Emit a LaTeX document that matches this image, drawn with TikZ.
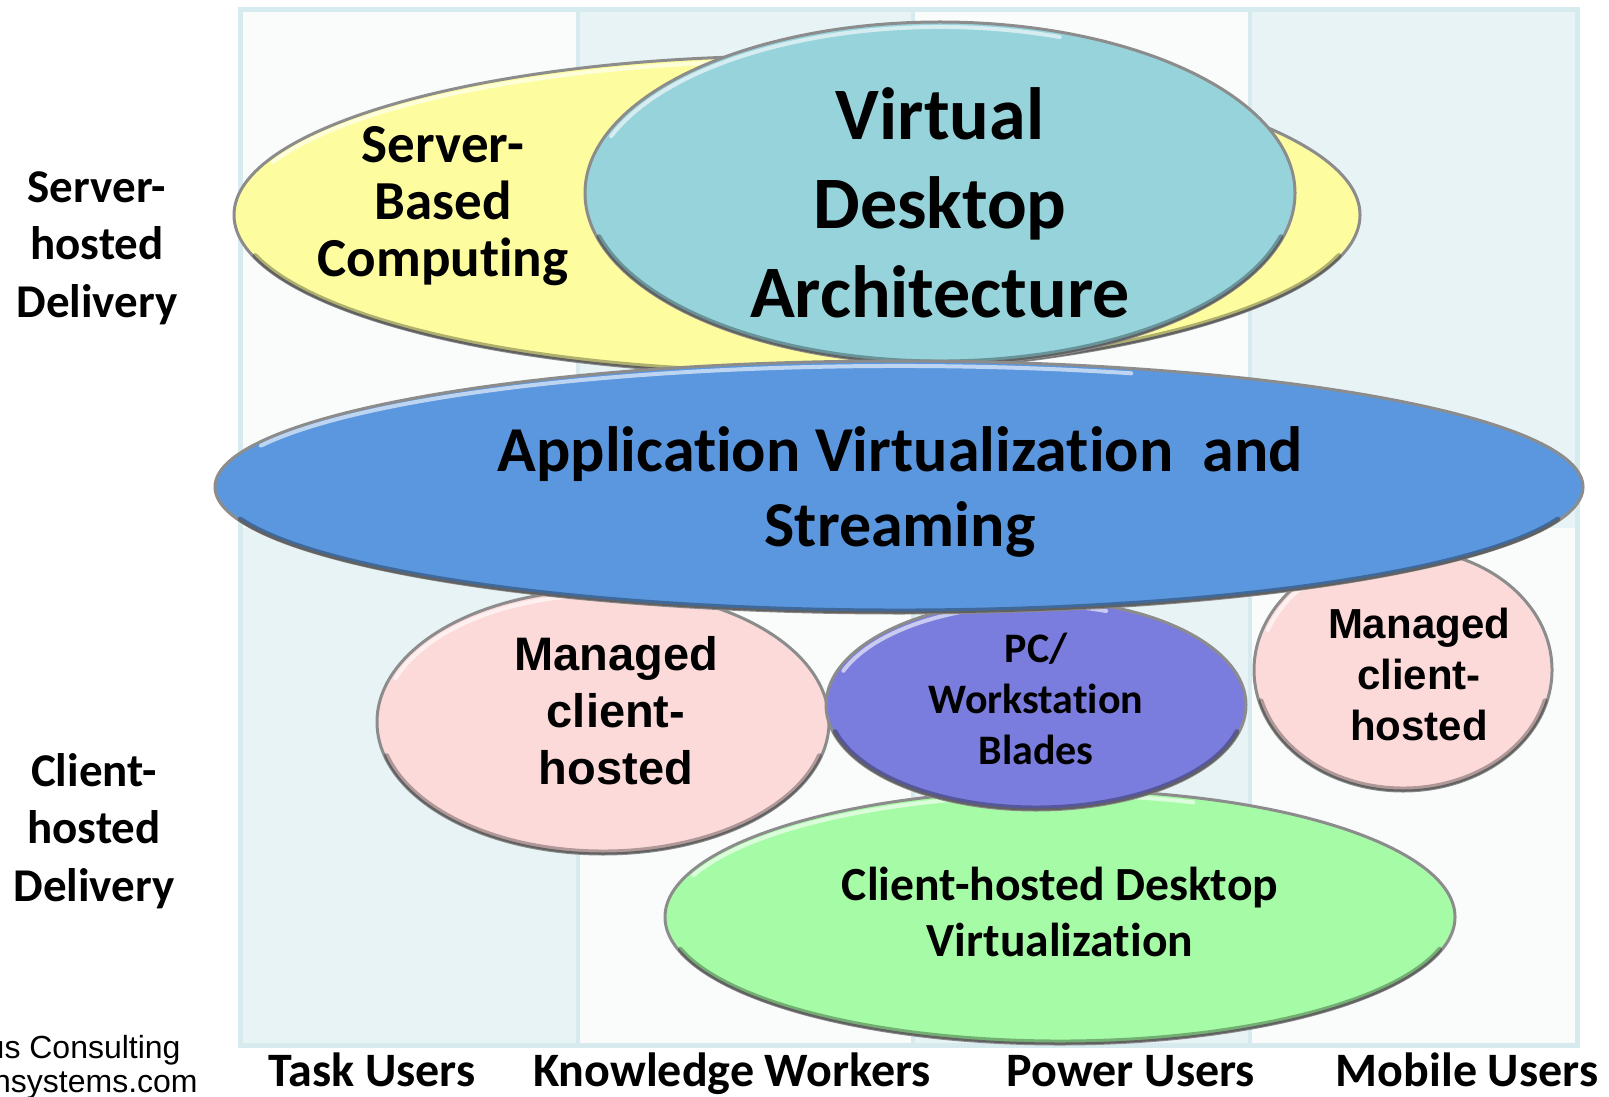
\documentclass[tikz,border=0pt]{standalone}
\usepackage{fontspec}
\setmainfont{Carlito}[Ligatures={NoCommon}]
\newfontfamily\arialf{Liberation Sans}
\usetikzlibrary{shapes.geometric}
\definecolor{frameblue}{HTML}{D7EBEF}
\definecolor{patcell}{HTML}{E8F3F5}
\definecolor{whitecell}{HTML}{FAFCFC}
\definecolor{sbcyellow}{HTML}{FDFD9F}
\definecolor{vdateal}{HTML}{96D3DB}
\definecolor{appblue}{HTML}{5B97DE}
\definecolor{mgdpink}{HTML}{FDDADA}
\definecolor{pcpurple}{HTML}{7B7DDE}
\definecolor{chdgreen}{HTML}{A6FCA6}
\tikzset{
  blobshape/.style={ellipse, draw=black!45, line width=1.5pt, inner sep=0pt, outer sep=0pt},
  blobhi/.style={white, opacity=0.6, line width=2pt, line cap=round},
  blobsh/.style={black, opacity=0.3, line width=2.5pt, line cap=round},
  lbl/.style={align=center, inner sep=0pt, text=black},
  axislbl/.style={inner sep=0pt, text=black, font=\bfseries\fontsize{24}{28}\selectfont, anchor=base},
  celldiv/.style={frameblue, line width=2.2pt}
}
\newcommand\mkblob[6]{%
  \node[blobshape, fill=#6, minimum width=#4pt, minimum height=#5pt] (#1) at (#2,#3) {};
  \draw[blobhi] (#2,#3) ++(200:{#4-5} and {#5-5}) arc[start angle=200, end angle=290, x radius={#4-5}, y radius={#5-5}];
  \draw[blobsh] (#2,#3) ++(15:{#4-2} and {#5-2}) arc[start angle=15, end angle=165, x radius={#4-2}, y radius={#5-2}];
}
\begin{document}
\begin{tikzpicture}[x=0.5pt,y=-0.5pt]
\useasboundingbox (0,0) rectangle (1609,1096);
\fill[white] (0,0) rectangle (1609,1096);
% background cells
\fill[whitecell] (243,12) rectangle (578,528);
\fill[patcell] (578,12) rectangle (913,528);
\fill[whitecell] (913,12) rectangle (1250,528);
\fill[patcell] (1250,12) rectangle (1575,528);
\fill[patcell] (243,528) rectangle (578,1043);
\fill[whitecell] (578,528) rectangle (913,1043);
\fill[patcell] (913,528) rectangle (1250,1043);
\fill[whitecell] (1250,528) rectangle (1575,1043);
\draw[celldiv] (578,12) -- (578,1043);
\draw[celldiv] (913,12) -- (913,1043);
\draw[celldiv] (1250,12) -- (1250,1043);
\draw[frameblue, line width=2.5pt] (240.5,9.5) rectangle (1577.5,1045.5);
% ellipses
\mkblob{sbc}{797}{215}{563}{159}{sbcyellow}
\mkblob{vda}{940}{193}{355}{171}{vdateal}
\mkblob{chd}{1060}{917}{395}{127}{chdgreen}
\mkblob{mgl}{603}{722}{226}{132}{mgdpink}
\mkblob{mgr}{1403}{670}{149}{121}{mgdpink}
\mkblob{pcw}{1036}{705}{210}{105}{pcpurple}
\mkblob{app}{899}{487}{684}{126}{appblue}
% texts
\node[lbl, font=\bfseries\fontsize{27.5}{28.5}\selectfont] (sbct) at (443,206) {Server-\\Based\\Computing};
\node[lbl, font=\bfseries\fontsize{37}{44.5}\selectfont] (vdat) at (940,203) {Virtual\\Desktop\\Architecture};
\node[lbl, font=\bfseries\fontsize{32}{37.5}\selectfont] (appt) at (900,492) {Application Virtualization~ and\\Streaming};
\node[lbl, font=\arialf\bfseries\fontsize{23.5}{28.5}\selectfont] (mglt) at (616,711) {Managed\\client-\\hosted};
\node[lbl, font=\arialf\bfseries\fontsize{21}{25.5}\selectfont] (mgrt) at (1419,674) {Managed\\client-\\hosted};
\node[lbl, font=\bfseries\fontsize{21}{25.5}\selectfont] (pcwt) at (1036,699) {PC/\\Workstation\\Blades};
\node[lbl, font=\bfseries\fontsize{23.8}{28.2}\selectfont] (chdt) at (1060,912) {Client-hosted Desktop\\Virtualization};
% row labels
\node[lbl, font=\bfseries\fontsize{23.5}{28.75}\selectfont] (srvrow) at (97,248) {Server-\\hosted\\Delivery};
\node[lbl, font=\bfseries\fontsize{23.5}{28.75}\selectfont] (clirow) at (94,831) {Client-\\hosted\\Delivery};
% column labels
\node[axislbl] (task) at (372,1086) {Task Users};
\node[axislbl] (know) at (732,1086) {Knowledge Workers};
\node[axislbl] (powr) at (1131,1086) {Power Users};
\node[axislbl] (mobi) at (1467,1086) {Mobile Users};
% footer
\node[inner sep=0pt, anchor=base east, font=\arialf\fontsize{16}{18}\selectfont] (foot1) at (181,1058) {us Consulting};
\node[inner sep=0pt, anchor=base east, font=\arialf\fontsize{16}{18}\selectfont] (foot2) at (198,1092) {nsystems.com};
\end{tikzpicture}
\end{document}
